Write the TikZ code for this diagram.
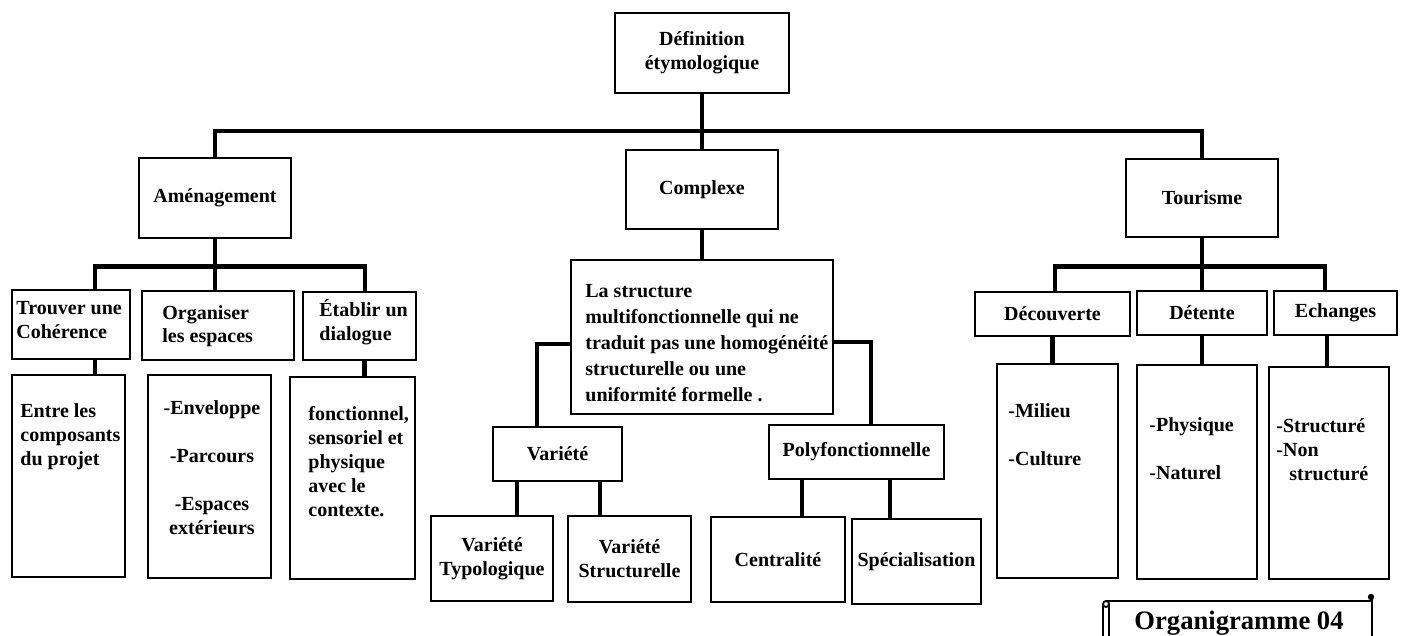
\documentclass[tikz,border=0pt]{standalone}
\usepackage{fontspec}
\setmainfont{Liberation Serif}
\usetikzlibrary{positioning,calc}

\begin{document}
\begin{tikzpicture}[
  x=0.5pt, y=-0.5pt,
  every node/.style={font={\bfseries\fontsize{10}{12}\selectfont}},
  box/.style={draw, line width=0.7pt, inner sep=0pt, align=center},
  wh/.style 2 args={minimum width=#1*0.5pt, minimum height=#2*0.5pt},
  txt/.style={inner sep=0pt, align=left, anchor=base west},
  link/.style={line width=2.2pt}
]
\useasboundingbox (0,0) rectangle (1402,636);
% level 0 and 1
\node[box, wh={174}{80}] (def) at (702,53) {Définition\\étymologique};
\node[box, wh={152}{80}] (amen) at (215,198) {Aménagement};
\node[box, wh={152}{79}] (complexe) at (702,189.5) {Complexe};
\node[box, wh={152}{78}] (tourisme) at (1202,198) {Tourisme};
\coordinate (mainbar) at (702,131);
\draw[link] (def.south) -- (complexe.north);
\draw[link] (amen.north) |- (mainbar) -| (tourisme.north);

% Aménagement
\node[box, wh={118}{69}] (trouver) at (71,324.5) {};
\node[box, wh={152}{69}] (organiser) at (218,325.5) {};
\node[box, wh={113}{68}] (etablir) at (359.5,326) {};
\node[txt] (trouvertxt) at (16,338) {Trouver une\\Cohérence};
\node[txt] (organisertxt) at (162,343) {Organiser\\les espaces};
\node[txt] (etablirtxt) at (319,340) {Établir un\\dialogue};
\node[box, wh={113}{202}] (entre) at (68.5,476) {};
\node[box, wh={123}{203}] (envel) at (209.5,476.5) {};
\node[box, wh={125}{202}] (fonct) at (352.5,478) {};
\node[txt] (entretxt) at (20,465) {Entre les\\composants\\du projet};
\node[inner sep=0pt, align=center, anchor=base] (enveltxt) at (212,534)
  {-Enveloppe\\[12pt]-Parcours\\[12pt]-Espaces\\extérieurs};
\node[txt] (fonctxt) at (308,516) {fonctionnel,\\sensoriel et\\physique\\avec le\\contexte.};
\draw[link] (amen.south) -- ++(0,28) coordinate (amenbar);
\draw[link] ([shift={(24,0)}]trouver.north) |- (amenbar) -| ([shift={(5.5,0)}]etablir.north);
\draw[link] (amenbar) -- (amenbar |- organiser.north);
\draw[link] ([shift={(24,0)}]trouver.south) -- ([shift={(24,0)}]trouver.south |- entre.north);
\draw[link] ([shift={(5,0)}]etablir.south) -- ([shift={(5,0)}]etablir.south |- fonct.north);

% Complexe
\node[box, wh={262}{154}] (struct) at (702,337) {};
\node[txt, font={\bfseries\fontsize{10}{13}\selectfont}] (structtxt) at (585,401)
  {La structure\\multifonctionnelle qui ne\\traduit pas une homogénéité\\structurelle ou une\\uniformité formelle .};
\node[box, wh={129}{54}] (variete) at (557.5,454) {Variété};
\node[box, wh={175}{54}] (poly) at (856.5,452) {Polyfonctionnelle};
\node[box, wh={122}{85}] (vtypo) at (492,558.5) {Variété\\Typologique};
\node[box, wh={123}{86}] (vstruct) at (629.5,559) {Variété\\Structurelle};
\node[box, wh={134}{85}] (central) at (778,559.5) {Centralité};
\node[box, wh={129}{85}] (special) at (916.5,561.5) {Spécialisation};
\draw[link] (complexe.south) -- (struct.north);
\draw[link] ([shift={(0,7)}]struct.west) -| ([shift={(-20.5,0)}]variete.north);
\draw[link] ([shift={(0,5)}]struct.east) -| ([shift={(14.5,0)}]poly.north);
\draw[link] ([shift={(-40.5,0)}]variete.south) -- ([shift={(-40.5,0)}]variete.south |- vtypo.north);
\draw[link] ([shift={(42.5,0)}]variete.south) -- ([shift={(42.5,0)}]variete.south |- vstruct.north);
\draw[link] ([shift={(-54.5,0)}]poly.south) -- ([shift={(-54.5,0)}]poly.south |- central.north);
\draw[link] ([shift={(33.5,0)}]poly.south) -- ([shift={(33.5,0)}]poly.south |- special.north);

% Tourisme
\node[box, wh={155}{44}] (decouv) at (1052.5,314) {Découverte};
\node[box, wh={130}{44}] (detente) at (1202,313) {Détente};
\node[box, wh={123}{44}] (echanges) at (1335.5,313) {Echanges};
\node[box, wh={121}{214}] (milieu) at (1057.5,471) {};
\node[box, wh={120}{214}] (physique) at (1197,472) {};
\node[box, wh={120}{212}] (structure) at (1329,473) {};
\node[txt] (milieutxt) at (1008,465) {-Milieu\\[12pt]-Culture};
\node[txt] (physiquetxt) at (1149,479) {-Physique\\[12pt]-Naturel};
\node[txt] (structuretxt) at (1276,480) {-Structuré\\-Non\\\hspace*{6.5pt}structuré};
\draw[link] (tourisme.south) -- ++(0,29) coordinate (tourbar);
\draw[link] ([shift={(2.5,0)}]decouv.north) |- (tourbar) -| ([shift={(-10.5,0)}]echanges.north);
\draw[link] (tourbar) -- (tourbar |- detente.north);
\draw[link] (decouv.south) -- (decouv.south |- milieu.north);
\draw[link] (detente.south) -- (detente.south |- physique.north);
\draw[link] ([shift={(-8.5,0)}]echanges.south) -- ([shift={(-8.5,0)}]echanges.south |- structure.north);

% scroll
\draw[line width=0.9pt] (1103,604) -- (1103,636) (1109,604) -- (1109,636);
\draw[line width=0.9pt] (1106,604) circle[radius=3];
\draw[line width=0.9pt] (1106,601) -- (1372,601);
\draw[line width=0.9pt] (1372,596) -- (1372,636);
\fill (1371,597) circle[radius=3.2];
\node[font={\bfseries\fontsize{13.3}{16}\selectfont}] (orgtxt) at (1239,623) {Organigramme 04};
\end{tikzpicture}
\end{document}
